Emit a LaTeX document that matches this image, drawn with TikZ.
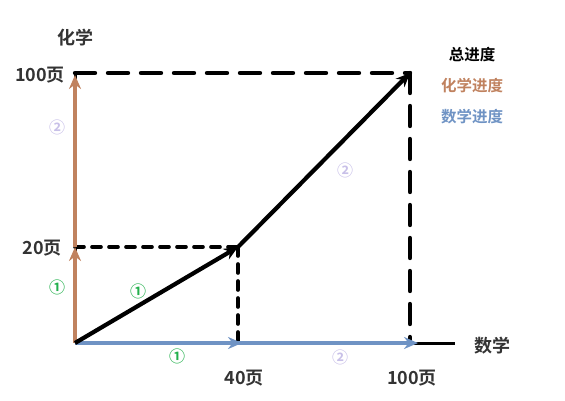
\documentclass[tikz,border=0pt]{standalone}
\usepackage{fontspec}
\setmainfont{Noto Sans CJK SC}[BoldFont={Noto Sans CJK SC Bold}]
\usepackage{tikz}
\usetikzlibrary{arrows.meta,positioning,calc}

\definecolor{chemc}{HTML}{C0825F}
\definecolor{mathc}{HTML}{6F93C4}
\definecolor{onec}{HTML}{22B04C}
\definecolor{twoc}{HTML}{C8C0E8}
\definecolor{axtext}{HTML}{333333}

\begin{document}
\begin{tikzpicture}[
    x=1pt, y=-1pt,
    >={Stealth[length=14pt,width=12pt]},
    % --- styles ---
    axis/.style   = {line width=3pt, black},
    total/.style  = {->, line width=4.2pt, black},
    chem/.style   = {->, line width=3.4pt, chemc},
    maths/.style  = {->, line width=3.4pt, mathc},
    smalldash/.style = {line width=3.6pt, line cap=round, dash pattern=on 9pt off 8pt},
    bigdash/.style   = {line width=4.4pt, line cap=round, dash pattern=on 20pt off 13pt},
    lbl/.style    = {font=\fontsize{18}{20}\selectfont\bfseries, text=axtext, inner sep=0pt},
    lgd/.style    = {font=\fontsize{15.5}{18}\selectfont\bfseries, inner sep=0pt},
    stepone/.style = {font=\fontsize{16}{18}\selectfont\bfseries, text=onec, inner sep=0pt},
    steptwo/.style = {font=\fontsize{16}{18}\selectfont\bfseries, text=twoc, inner sep=0pt},
]
\useasboundingbox (0,0) rectangle (565,400);

%============ KEY POINTS ============
\coordinate (O)     at (75,343);
\coordinate (ytop)  at (75,73);
\coordinate (xend)  at (455,343);
\coordinate (c20)   at (75,247);
\coordinate (mid)   at (238,247);
\coordinate (m40)   at (238,343);
\coordinate (top)   at (410,73);
\coordinate (m100)  at (410,343);

%============ AXES ============
\draw[axis] (O) -- (ytop);
\draw[axis] (O) -- (xend);

%============ DASHED GUIDES ============
\draw[smalldash] (c20) -- (mid);
\draw[smalldash] (mid) -- (m40);
\draw[bigdash] (ytop) -- (top);
\draw[bigdash] (top) -- (m100);

%============ PROGRESS ARROWS ============
\draw[chem] (O) -- (c20);
\draw[chem] (c20) -- ($(ytop)+(0,2)$);
\draw[maths] (O) -- ($(m40)+(4,0)$);
\draw[maths] (m40) -- ($(m100)+(8,0)$);
\draw[total] (O) -- (mid);
\draw[total] (mid) -- (top);

%============ AXIS LABELS ============
\node (ylab)   [lbl] at (75,38)   {化学};
\node (xlab)   [lbl] at (492,346) {数学};
\node (y100)   [lbl] at (40,75)   {100页};
\node (y20)    [lbl] at (42,248)  {20页};
\node (x40)    [lbl] at (244,378) {40页};
\node (x100)   [lbl] at (412,378) {100页};

%============ STEP MARKS ============
\node (s1)  [stepone] at (57,287)  {①};
\node (s2)  [steptwo] at (57,127)  {②};
\node (s3)  [stepone] at (138,291) {①};
\node (s4)  [steptwo] at (345,170) {②};
\node (s5)  [stepone] at (177,356) {①};
\node (s6)  [steptwo] at (340,357) {②};

%============ LEGEND ============
\node (ltot)  [lgd, text=black] at (472,55)  {总进度};
\node (lchem) [lgd, text=chemc] at (472,86)  {化学进度};
\node (lmath) [lgd, text=mathc] at (472,117) {数学进度};

\end{tikzpicture}
\end{document}
